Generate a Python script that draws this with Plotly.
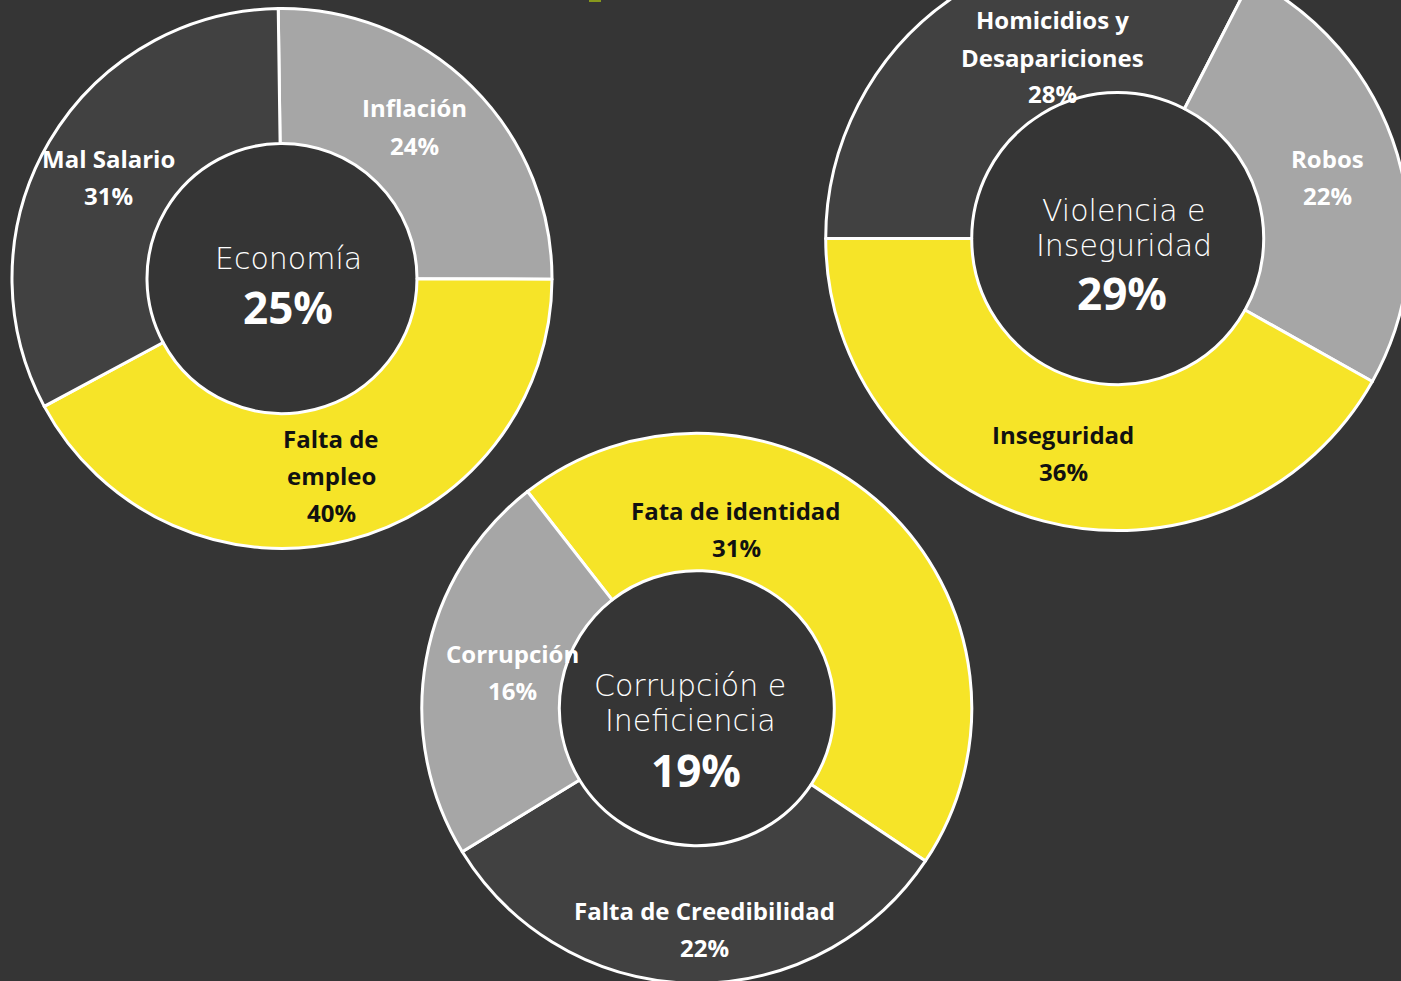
import plotly.graph_objects as go

# ---- data -------------------------------------------------------------
econ_labels = ["Inflación", "Falta de empleo", "Mal Salario"]
econ_values = [24, 40, 31]

viol_labels = ["Homicidios y Desapariciones", "Robos", "Inseguridad"]
viol_values = [28, 22, 36]

corr_labels = ["Fata de identidad", "Falta de Creedibilidad", "Corrupción"]
corr_values = [31, 22, 16]

group_titles = [["Economía"], ["Violencia e", "Inseguridad"], ["Corrupción e", "Ineficiencia"]]
group_shares = [25, 29, 19]

# ---- styling / layout -------------------------------------------------
BG = "#353535"
YELLOW = "#F6E428"
DARK = "#414141"
GREY = "#A6A6A6"
FONT = "Open Sans"
TITLE_FONT = "DejaVu Sans"

W, H = 1420, 1060      # canvas size
SHIFT = 60             # canvas is lifted by this many px on the page

def fx(px):
    return px / W

def fy(py):
    return 1 - (py + SHIFT) / H

def domain(cx, cy, r):
    return dict(x=[fx(cx - r), fx(cx + r)], y=[fy(cy + r), fy(cy - r)])

donuts = [
    dict(labels=econ_labels, values=econ_values, colors=[GREY, YELLOW, DARK],
         centre=(282, 278.5), radius=270, rotation=-0.8,
         label_lines=[["Inflación"], ["Falta de", "empleo"], ["Mal Salario"]],
         label_pos=[(414, 108), (331, 438), (108, 158)],
         title_pos=(288, 258), share_pos=(288, 307)),
    dict(labels=viol_labels, values=viol_values, colors=[DARK, GREY, YELLOW],
         centre=(1117.7, 238.6), radius=292, rotation=-90,
         label_lines=[["Homicidios y", "Desapariciones"], ["Robos"], ["Inseguridad"]],
         label_pos=[(1052, 20), (1327, 158), (1063, 434)],
         title_pos=(1124, 210), share_pos=(1122, 293)),
    dict(labels=corr_labels, values=corr_values, colors=[YELLOW, DARK, GREY],
         centre=(696.8, 708.2), radius=275, rotation=-38,
         label_lines=[["Fata de identidad"], ["Falta de Creedibilidad"], ["Corrupción"]],
         label_pos=[(736, 510), (704, 910), (512, 653)],
         title_pos=(690, 685), share_pos=(696, 770)),
]

LINE_GAP = 37
TITLE_GAP = 35

fig = go.Figure()
annotations = []

def note(x, y, text, size, color, weight, family=FONT):
    annotations.append(dict(
        x=fx(x), y=fy(y), xref="paper", yref="paper", text=text,
        showarrow=False, xanchor="center", yanchor="middle",
        font=dict(family=family, size=size, color=color, weight=weight),
    ))

for i, d in enumerate(donuts):
    cx, cy = d["centre"]
    fig.add_trace(go.Pie(
        labels=d["labels"], values=d["values"],
        hole=0.5, sort=False, direction="clockwise", rotation=d["rotation"],
        marker=dict(colors=d["colors"], line=dict(color="white", width=3)),
        textinfo="none", hoverinfo="label+value", showlegend=False,
        domain=domain(cx, cy, d["radius"]),
    ))
    # slice labels: name lines followed by the value
    for lines, val, col, (lx, ly) in zip(d["label_lines"], d["values"],
                                         d["colors"], d["label_pos"]):
        tcol = "#111111" if col == YELLOW else "white"
        for k, txt in enumerate(lines + [f"{val}%"]):
            note(lx, ly + k * LINE_GAP, f"<b>{txt}</b>", 24, tcol, 700)
    # centre title and overall share
    tx, ty = d["title_pos"]
    for k, txt in enumerate(group_titles[i]):
        note(tx, ty + k * TITLE_GAP, txt, 30, "white", 200, TITLE_FONT)
    sx, sy = d["share_pos"]
    note(sx, sy, f"<b>{group_shares[i]}%</b>", 44, "white", 700)

fig.update_layout(
    width=W, height=H,
    margin=dict(l=0, r=0, t=0, b=0),
    paper_bgcolor=BG, plot_bgcolor=BG,
    annotations=annotations,
    shapes=[dict(type="rect", xref="paper", yref="paper",
                 x0=fx(589), x1=fx(601), y0=fy(2), y1=fy(-1),
                 fillcolor="#87981C", line=dict(width=0))],
)

page_script = (
    "var d=document.getElementById('{plot_id}');"
    "d.style.position='absolute';d.style.left='0px';d.style.top='-%dpx';"
    "document.body.style.margin='0';document.body.style.overflow='hidden';"
    "document.documentElement.style.overflow='hidden';"
    "document.body.style.background='%s';" % (SHIFT, BG)
)

fig.write_html("out.html", post_script=page_script)
